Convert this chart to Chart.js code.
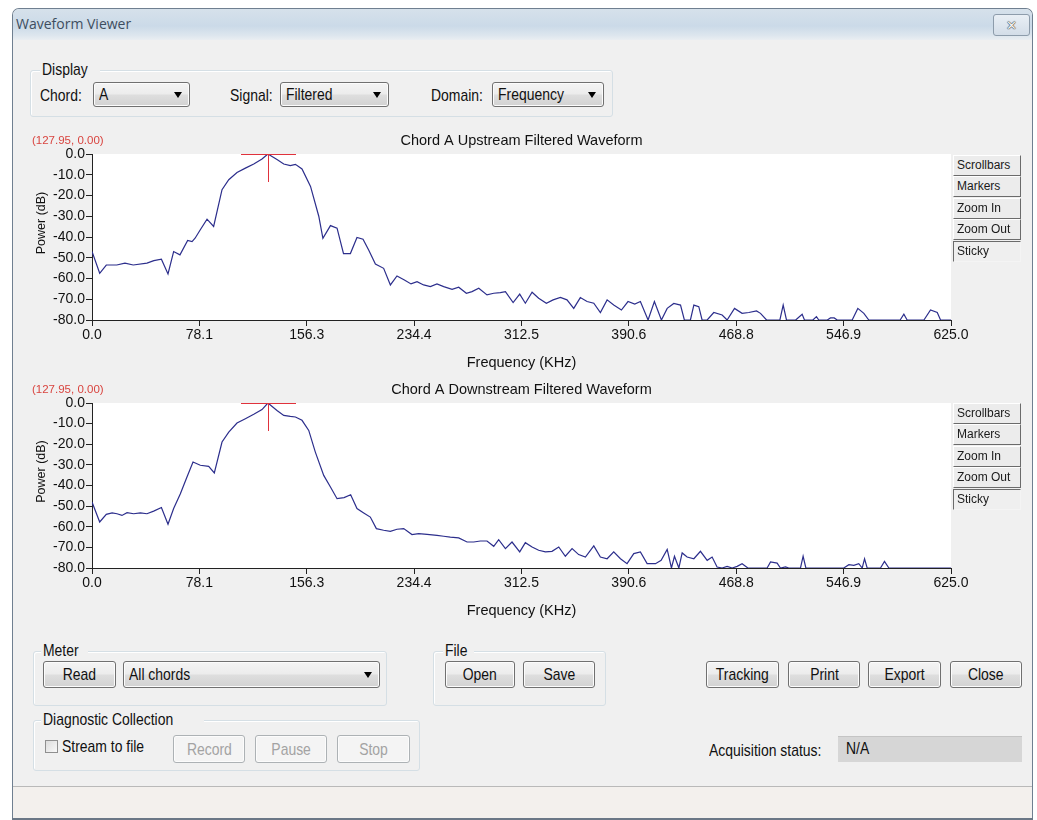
<!DOCTYPE html>
<html>
<head>
<meta charset="utf-8">
<script src="https://cdn.jsdelivr.net/npm/chart.js@4/dist/chart.umd.min.js"></script>
<style>
html,body{margin:0;padding:0;background:#ffffff;}
body{width:1037px;height:820px;position:relative;overflow:hidden;font-family:'Liberation Sans',Arial,sans-serif;}
.abs{position:absolute;box-sizing:border-box;}
.n{display:inline-block;transform:scaleX(0.82);transform-origin:left center;white-space:nowrap;}
.nc{display:inline-block;transform:scaleX(0.82);transform-origin:center center;white-space:nowrap;}
.lbl{position:absolute;font-size:17px;line-height:17px;color:#111;white-space:nowrap;}
.btn{position:absolute;box-sizing:border-box;border:1px solid #707070;border-radius:3px;
 background:linear-gradient(#f4f4f4 0%,#ececec 48%,#dedede 52%,#d2d2d2 100%);
 font-size:17px;line-height:17px;display:flex;align-items:center;justify-content:center;color:#111;box-shadow:inset 0 0 0 1px #fcfcfc;overflow:hidden;}
.btn.dis{border-color:#adb2b5;color:#a3a3a3;background:#f4f4f4;}
.combo{justify-content:flex-start;padding-left:5px;}
.combo .arr{position:absolute;right:7px;top:50%;margin-top:-3px;width:0;height:0;border-left:4px solid transparent;border-right:4px solid transparent;border-top:6px solid #000;}
.group{position:absolute;box-sizing:border-box;border:1px solid #d5dfe5;border-radius:3px;box-shadow:1px 1px 0 #fff inset;}
.glbl{position:absolute;font-size:17px;line-height:17px;color:#111;background:#f0f0f0;padding:0 2px;white-space:nowrap;}
.sb{position:absolute;box-sizing:border-box;width:68px;height:21px;font-size:12px;line-height:19px;padding-left:3px;color:#1a1a1a;white-space:nowrap;overflow:hidden;
 background:#ececec;border:1px solid;border-color:#ffffff #6b6b6b #6b6b6b #ffffff;}
.sb.sunk{border-color:#6b6b6b #f4f4f4 #f4f4f4 #6b6b6b;background:#efefef;}
canvas{position:absolute;}
</style>
</head>
<body>
<!-- window frame -->
<div class="abs" style="left:12px;top:8px;width:1021px;height:812px;border:1px solid #6f7f90;border-bottom:none;border-radius:7px 7px 0 0;background:#f0f0f0;"></div>
<div class="abs" style="left:13px;top:9px;width:1019px;height:31px;border-radius:6px 6px 0 0;background:linear-gradient(#d6e1eb 0%,#cbdae8 55%,#dde6ee 85%,#eaeef2 100%);"></div>
<div class="abs" style="left:16px;top:15px;font-family:'Open Sans','Noto Sans',sans-serif;font-size:14px;line-height:18px;color:#3e4e60;white-space:nowrap;">Waveform Viewer</div>
<div class="abs" style="left:993px;top:14px;width:37px;height:22px;border:1px solid #8d9cab;border-radius:3px;background:linear-gradient(#e9eff5,#d3dde8);display:flex;align-items:center;justify-content:center;font-family:'DejaVu Sans',sans-serif;font-weight:bold;font-size:13px;color:#f4f4f4;text-shadow:0 0 1px #444,0 0 1px #444,0 0 1px #444;">✕</div>

<!-- Display group -->
<div class="group" style="left:30px;top:70px;width:583px;height:47px;"></div>
<div class="glbl" style="left:40px;top:61px;"><span class="n">Display</span></div>
<div class="lbl" style="left:40px;top:87px;"><span class="n">Chord:</span></div>
<div class="btn combo" style="left:93px;top:82px;width:97px;height:25px;"><span class="n">A</span><span class="arr"></span></div>
<div class="lbl" style="left:230px;top:87px;"><span class="n">Signal:</span></div>
<div class="btn combo" style="left:280px;top:82px;width:109px;height:25px;"><span class="n">Filtered</span><span class="arr"></span></div>
<div class="lbl" style="left:431px;top:87px;"><span class="n">Domain:</span></div>
<div class="btn combo" style="left:492px;top:82px;width:112px;height:25px;"><span class="n">Frequency</span><span class="arr"></span></div>

<!-- chart canvases -->
<canvas id="c1" width="1015" height="245" style="left:20px;top:130px;"></canvas>
<canvas id="c2" width="1015" height="244" style="left:20px;top:379px;"></canvas>

<!-- side buttons top -->
<div class="sb" style="left:953px;top:155px;">Scrollbars</div>
<div class="sb" style="left:953px;top:176px;">Markers</div>
<div class="sb" style="left:953px;top:198px;">Zoom In</div>
<div class="sb" style="left:953px;top:219px;">Zoom Out</div>
<div class="sb sunk" style="left:953px;top:241px;">Sticky</div>
<!-- side buttons bottom -->
<div class="sb" style="left:953px;top:403px;">Scrollbars</div>
<div class="sb" style="left:953px;top:424px;">Markers</div>
<div class="sb" style="left:953px;top:446px;">Zoom In</div>
<div class="sb" style="left:953px;top:467px;">Zoom Out</div>
<div class="sb sunk" style="left:953px;top:489px;">Sticky</div>

<!-- Meter group -->
<div class="group" style="left:33px;top:651px;width:354px;height:55px;"></div>
<div class="glbl" style="left:41px;top:642px;"><span class="n">Meter</span></div>
<div class="btn" style="left:43px;top:661px;width:73px;height:27px;"><span class="nc">Read</span></div>
<div class="btn combo" style="left:123px;top:661px;width:257px;height:27px;"><span class="n">All chords</span><span class="arr"></span></div>

<!-- File group -->
<div class="group" style="left:433px;top:651px;width:173px;height:55px;"></div>
<div class="glbl" style="left:443px;top:642px;"><span class="n">File</span></div>
<div class="btn" style="left:445px;top:661px;width:70px;height:27px;"><span class="nc">Open</span></div>
<div class="btn" style="left:523px;top:661px;width:72px;height:27px;"><span class="nc">Save</span></div>

<div class="btn" style="left:706px;top:661px;width:73px;height:27px;"><span class="nc">Tracking</span></div>
<div class="btn" style="left:788px;top:661px;width:72px;height:27px;"><span class="nc">Print</span></div>
<div class="btn" style="left:868px;top:661px;width:73px;height:27px;"><span class="nc">Export</span></div>
<div class="btn" style="left:950px;top:661px;width:72px;height:27px;"><span class="nc">Close</span></div>

<!-- Diagnostic group -->
<div class="group" style="left:33px;top:720px;width:387px;height:51px;"></div>
<div class="glbl" style="left:41px;top:711px;"><span class="n">Diagnostic Collection</span></div>
<div class="abs" style="left:45px;top:740px;width:13px;height:13px;border:1px solid #8f8f8f;background:linear-gradient(135deg,#dcdcdc,#f8f8f8);"></div>
<div class="lbl" style="left:62px;top:738px;"><span class="n">Stream to file</span></div>
<div class="btn dis" style="left:173px;top:735px;width:72px;height:28px;"><span class="nc">Record</span></div>
<div class="btn dis" style="left:255px;top:735px;width:72px;height:28px;"><span class="nc">Pause</span></div>
<div class="btn dis" style="left:337px;top:735px;width:73px;height:28px;"><span class="nc">Stop</span></div>

<div class="lbl" style="left:709px;top:742px;"><span class="n">Acquisition status:</span></div>
<div class="abs" style="left:838px;top:736px;width:184px;height:26px;background:#d6d6d6;border-top:1px solid #c4c4c4;font-size:17px;line-height:17px;padding:3px 0 0 8px;color:#111;"><span class="n">N/A</span></div>

<!-- status bar -->
<div class="abs" style="left:13px;top:786px;width:1019px;height:1px;background:#b9b9b9;"></div>
<div class="abs" style="left:13px;top:787px;width:1019px;height:31px;background:#f3f0ed;"></div>
<div class="abs" style="left:12px;top:818px;width:1021px;height:2px;background:#6a7786;"></div>

<script>
// ---------- data ----------
const xTickValues = [0, 78.125, 156.25, 234.375, 312.5, 390.625, 468.75, 546.875, 625];
const yTickValues = [0, -10, -20, -30, -40, -50, -60, -70, -80];

const upFreq = [0,5.6,10.4,18,24,30,40,45,50.5,55.3,59.4,64,69.6,72.8,75,78.8,83.7,88.5,94.6,99.5,105.5,111.6,117.7,123.7,128,134.6,139.5,144.3,148,152.8,159,165,168,173.5,178.3,183,188,192.8,197.2,201.3,206.2,212.2,217.1,221.9,227.3,232.1,236.5,241.3,246.2,251,255.9,262,266.8,272.4,276.5,281.4,287.4,292.3,297.1,300.8,306.4,311.2,315.3,320.2,325,330.6,335.5,340.8,345.6,350.5,355.3,360.2,365.1,369.9,374.8,379.6,385.2,390,394.9,399,404.6,409.2,414.3,418.5,423.3,428.2,431,435.4,437.9,441.5,443.9,447.6,452.4,458.5,462.1,467.5,473,477.9,483.5,486.4,490.8,500.5,502.9,505.3,512,516.7,518.4,524.5,527.1,528.8,535,537.3,540,542.2,553.1,557.2,561.6,565.2,588,590.7,593.1,605.3,610.1,615,617.4,625];
const upPower = [-47,-57.5,-53.5,-53.5,-52.6,-53.5,-52.6,-51.4,-50.7,-57.8,-47,-48.6,-41.7,-42.2,-40.6,-36.5,-31.4,-34.9,-17.2,-12.4,-8.9,-6.8,-4.8,-2.4,0,-2.7,-4.8,-5.6,-5,-7.2,-15.6,-30,-40.6,-34.5,-35.7,-48,-48,-40.2,-41.1,-46.3,-53,-55.1,-63.1,-58.8,-60.7,-62.6,-61.5,-63.1,-63.9,-62.6,-63.9,-65.2,-64.2,-67.1,-66.3,-64.7,-67.9,-67.1,-66.8,-66.3,-71.6,-67.5,-71.9,-66.6,-69.5,-71.9,-70.3,-69.1,-70.3,-74.4,-69.2,-71.1,-71.9,-76.4,-70.3,-72.8,-75.2,-71.1,-72.3,-71.1,-80,-71.1,-80,-74.4,-72,-72.8,-80,-80,-72.8,-73.6,-80,-80,-76.4,-77.6,-80,-74.4,-76.8,-76.4,-75.6,-76.8,-80,-80,-72.8,-80,-80,-77.2,-80,-80,-78.4,-80,-80,-79,-79,-80,-80,-74.4,-76.8,-80,-80,-77.2,-80,-80,-75.2,-76.4,-80,-80];

const downFreq = [0,5.6,10.4,14.6,18.2,21.8,25.5,30.3,35.2,40,44.9,50.5,55.3,59.4,64.3,69.1,73.5,78.8,84.9,89,94.6,99.5,105.5,111.6,117.7,123.7,128,134.6,139.5,144.3,148,152.8,157.7,162.5,168.6,173.5,178.3,183.4,188.2,192.8,197.7,202.5,206.9,212.2,217.1,221.9,226.8,232.8,237.7,243.8,251,255.9,260.7,266.8,272.9,277.7,282.6,287.4,292.3,295.9,300.8,305.6,311.2,315.3,320.2,325,329.9,334.7,339.6,344.4,349.3,354.1,359,365.1,369.9,374.8,379.6,384.5,389.3,394.2,399,403.9,410,414.1,418.5,421.6,423.8,427,429.4,433,437.9,442.7,447.6,451.2,454.8,458.5,462.1,465.8,469.4,473,477.2,491.2,493.7,498.5,500.9,504.6,507,515.5,517.4,519.4,547,550.7,554.3,557.9,560.4,562.1,564,573.7,576.6,579.8,625];
const downPower = [-48,-57.7,-54,-53.3,-53.7,-54.5,-53.2,-53.7,-53.3,-53.7,-52.4,-50.7,-58.8,-51.2,-44,-35.9,-28.6,-30.2,-30.7,-33.9,-18.9,-14.1,-9.7,-7.6,-5.5,-3.2,0,-3.6,-6,-6.5,-6.8,-8.4,-13.3,-23.8,-35.1,-40.7,-46.4,-45.9,-44.5,-51.2,-53.3,-55.3,-60.9,-61.7,-62.2,-61.2,-60.9,-63.8,-63.3,-63.7,-64.2,-64.6,-65,-65.4,-67.4,-67.4,-66.9,-66.9,-69.5,-66.3,-70.6,-67.4,-72.2,-67.7,-69.8,-71.4,-72.2,-71.9,-69.8,-74.3,-70.6,-73.5,-74.7,-69.3,-74.7,-75.5,-72.2,-75.5,-77.9,-73,-72.2,-77.9,-77.9,-76.3,-71,-80,-74.3,-80,-72.7,-74.7,-75.5,-71.9,-76.3,-74.7,-79.5,-80,-79.2,-80,-79.2,-77.9,-80,-80,-77.1,-77.6,-80,-79.5,-80,-80,-74.3,-80,-80,-78.4,-78.7,-77.9,-80,-75.5,-80,-80,-76.8,-80,-80];

const markerFreq = 127.95;
const markerPower = 0.00;

// ---------- drawing ----------
const FONT = "'Liberation Sans',Arial,sans-serif";

const overlay = {
  id: 'overlay',
  beforeDraw(chart) {
    const {ctx, chartArea: a} = chart;
    ctx.save();
    ctx.fillStyle = '#ffffff';
    ctx.fillRect(a.left, a.top, a.right - a.left, a.bottom - a.top);
    ctx.restore();
  },
  afterDatasetsDraw(chart, args, opts) {
    const {ctx, scales} = chart;
    const cx = Math.round(scales.x.getPixelForValue(opts.mx));
    const cy = Math.round(scales.y.getPixelForValue(opts.my));
    ctx.save();
    ctx.strokeStyle = '#e0323c';
    ctx.lineWidth = 1;
    ctx.beginPath();
    ctx.moveTo(cx - 27, cy + 0.5);
    ctx.lineTo(cx + 28, cy + 0.5);
    ctx.moveTo(cx + 0.5, cy);
    ctx.lineTo(cx + 0.5, cy + 28);
    ctx.stroke();
    ctx.restore();
  },
  afterDraw(chart, args, opts) {
    const {ctx, chartArea: a} = chart;
    ctx.save();
    ctx.textBaseline = 'middle';
    ctx.fillStyle = '#111';
    ctx.font = '14.5px ' + FONT;
    ctx.textAlign = 'center';
    ctx.fillText(opts.title, (a.left + a.right) / 2, a.top - 13);
    ctx.textAlign = 'left';
    ctx.fillStyle = '#d9443f';
    ctx.font = '11.5px ' + FONT;
    ctx.fillText('(' + opts.mx.toFixed(2) + ', ' + opts.my.toFixed(2) + ')', 12, a.top - 13);
    ctx.fillStyle = '#111';
    ctx.font = '12.5px ' + FONT;
    ctx.translate(22, (a.top + a.bottom) / 2 - 14);
    ctx.rotate(-Math.PI / 2);
    ctx.textAlign = 'center';
    ctx.fillText('Power (dB)', 0, 0);
    ctx.restore();
  }
};

function makeChart(id, freq, power, title) {
  const tickFont = {family: FONT, size: 14};
  return new Chart(document.getElementById(id), {
    type: 'line',
    data: {
      datasets: [{
        data: freq.map((f, i) => ({x: f, y: power[i]})),
        borderColor: '#2c2e8c',
        borderWidth: 1.2,
        pointRadius: 0,
        tension: 0,
        fill: false
      }]
    },
    options: {
      responsive: false,
      animation: false,
      devicePixelRatio: 1,
      layout: {padding: {top: 24, right: 84, left: 0, bottom: 0}},
      plugins: {
        legend: {display: false},
        tooltip: {enabled: false},
        overlay: {title: title, mx: markerFreq, my: markerPower}
      },
      scales: {
        x: {
          type: 'linear', min: 0, max: 625,
          afterBuildTicks: s => { s.ticks = xTickValues.map(v => ({value: v})); },
          afterFit: s => { s.height = 55; },
          ticks: {autoSkip: false, maxRotation: 0, padding: 1, color: '#111', font: tickFont,
                  callback: v => Number(v).toFixed(1)},
          grid: {drawOnChartArea: false, drawTicks: true, tickLength: 6, color: '#222'},
          border: {display: true, color: '#222', width: 1},
          title: {display: true, text: 'Frequency (KHz)', color: '#111', font: {family: FONT, size: 14.5}, padding: {top: 0, bottom: 3}}
        },
        y: {
          type: 'linear', min: -80, max: 0,
          afterBuildTicks: s => { s.ticks = yTickValues.map(v => ({value: v})); },
          afterFit: s => { s.width = 72; },
          ticks: {autoSkip: false, padding: 1, color: '#111', font: tickFont,
                  callback: v => Number(v).toFixed(1)},
          grid: {drawOnChartArea: false, drawTicks: true, tickLength: 6, color: '#222'},
          border: {display: true, color: '#222', width: 1}
        }
      }
    },
    plugins: [overlay]
  });
}

makeChart('c1', upFreq, upPower, 'Chord A Upstream Filtered Waveform');
makeChart('c2', downFreq, downPower, 'Chord A Downstream Filtered Waveform');
</script>
</body>
</html>
